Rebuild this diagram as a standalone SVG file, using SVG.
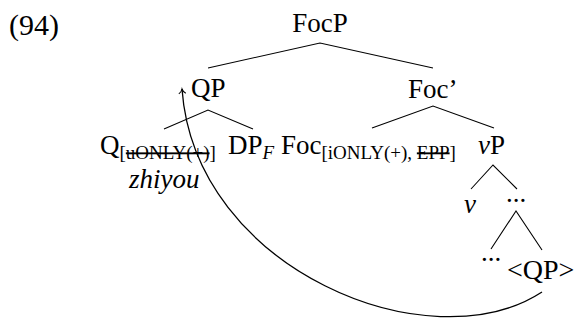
<svg xmlns="http://www.w3.org/2000/svg" width="577" height="320" viewBox="0 0 577 320">
  <style>
    text { font-family: "Liberation Serif", "Times New Roman", serif; fill: #000; }
    .lbl { font-size: 27px; }
    .num { font-size: 30px; }
    .sub { font-size: 19px; }
    .it { font-style: italic; }
    .strike { text-decoration: line-through; }
    .edge { stroke: #000; stroke-width: 1.1; fill: none; }
    .move { stroke: #000; stroke-width: 1.3; fill: none; }
  </style>
  <defs>
    <marker id="toArrow" viewBox="-6 -5 8 10" markerWidth="8" markerHeight="10" refX="0" refY="0" orient="auto" markerUnits="userSpaceOnUse">
      <path d="M-4.5,-3.5 C-3.5,-1.6 -1.4,-0.4 0,0 C-1.4,0.4 -3.5,1.6 -4.5,3.5" stroke="#000" stroke-width="1.1" fill="none"/>
    </marker>
  </defs>

  <text class="num" x="9" y="35">(94)</text>

  <!-- tree edges -->
  <g id="edges">
    <path class="edge" d="M208,68 L320,43 L433,68"/>
    <path class="edge" d="M164,129 L208,110 L253,129"/>
    <path class="edge" d="M372,128 L433,106 L494,128"/>
    <path class="edge" d="M471,189 L493,165 L517,189"/>
    <path class="edge" d="M491,249 L516,211 L542,250"/>
    <!-- movement of QP from its trace -->
    <path class="move" d="M542,292 C430,365 195,270 182,89" marker-end="url(#toArrow)"/>
  </g>

  <g id="FocP"><text class="lbl" x="320" y="32" text-anchor="middle">FocP</text></g>
  <g id="QP"><text class="lbl" x="191" y="97">QP</text></g>
  <g id="FocBar"><text class="lbl" x="408" y="98">Foc’</text></g>

  <g id="Q">
    <text class="lbl" x="100" y="154">Q<tspan class="sub" dy="5">[<tspan class="strike">uONLY(+)</tspan>]</tspan></text>
    <text class="lbl it" x="129" y="188">zhiyou</text>
  </g>
  <g id="DP">
    <text class="lbl" x="228" y="154">DP<tspan class="sub it" dy="5">F</tspan></text>
  </g>
  <g id="Foc">
    <text class="lbl" x="281" y="154">Foc<tspan class="sub" dy="5">[iONLY(+), <tspan class="strike">EPP</tspan>]</tspan></text>
  </g>
  <g id="vP">
    <text class="lbl" x="478" y="154"><tspan class="it">v</tspan>P</text>
  </g>
  <g id="v"><text class="lbl it" x="470" y="213" text-anchor="middle">v</text></g>
  <g id="dots1"><text class="lbl" x="516" y="202" text-anchor="middle">...</text></g>
  <g id="dots2"><text class="lbl" x="491" y="261" text-anchor="middle">...</text></g>
  <g id="QPtrace"><text class="lbl" x="507" y="279" style="font-size:28px">&lt;QP&gt;</text></g>
</svg>
